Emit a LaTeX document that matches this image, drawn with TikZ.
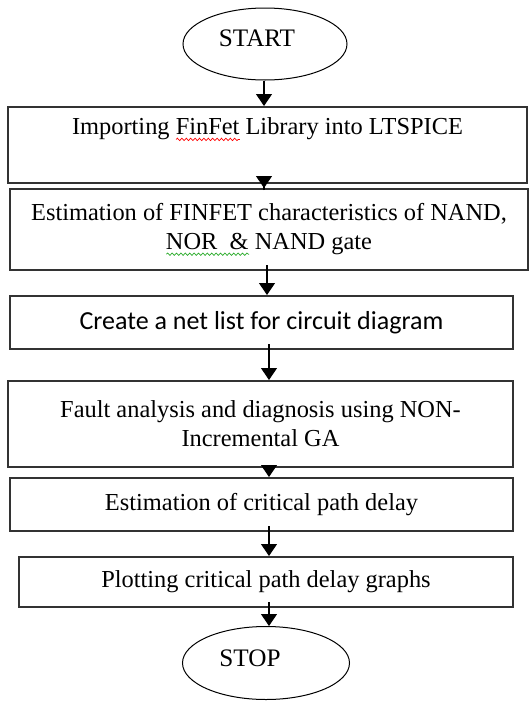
\documentclass[tikz,border=0pt]{standalone}
\usepackage{fontspec}
\setmainfont{Liberation Serif}
\newfontfamily\calibrifont{Carlito}
\usetikzlibrary{shapes.geometric,arrows.meta,decorations.pathmorphing}
\newsavebox\wavebox
\newcommand\spellwave[2]{\sbox\wavebox{#2}\rlap{\tikz[baseline=0pt]\draw[#1,line width=0.35pt,decorate,decoration={snake,amplitude=0.6pt,segment length=2.2pt}] (0pt,-2.4pt) -- (\the\wd\wavebox,-2.4pt);}\usebox\wavebox}
\definecolor{wordgreen}{RGB}{40,170,40}
\begin{document}
\begin{tikzpicture}[x=0.5pt,y=-0.5pt,
  box/.style={draw=black!80,line width=1pt,inner sep=0pt,align=center,font=\fontsize{12.2}{14.5}\selectfont},
  terminal/.style={ellipse,draw,line width=0.5pt,inner sep=0pt,font=\fontsize{12.6}{15}\selectfont},
  flow/.style={-{Triangle[width=8pt,length=6pt]},line width=0.6pt}]
\useasboundingbox (0,0) rectangle (529,702);

\node[terminal,minimum width=82pt,minimum height=36pt] (start) at (265,44)
    {\raisebox{-1.25pt}[0pt][0pt]{START}\hspace*{8pt}};

\node[box,minimum width=259.5pt,minimum height=38pt] (box1) at (267.5,145)
    {Importing \spellwave{red}{FinFet} Library into LTSPICE\\ \strut};
\node[box,minimum width=259pt,minimum height=40.5pt] (box2) at (269,229.5)
    {Estimation of FINFET characteristics of NAND,\\ \spellwave{wordgreen}{NOR\ \ \&} NAND gate};
\node[box,minimum width=251.5pt,minimum height=26.5pt,font=\calibrifont\fontsize{13}{15}\selectfont] (box3) at (261.5,322.5)
    {Create a net list for circuit diagram};
\node[box,minimum width=252.5pt,minimum height=43pt] (box4) at (260.5,424)
    {Fault analysis and diagnosis using NON-\\ Incremental GA};
\node[box,minimum width=251.5pt,minimum height=26.5pt] (box5) at (261.5,504.5)
    {Estimation of critical path delay};
\node[box,minimum width=247pt,minimum height=25pt] (box6) at (266,582)
    {Plotting critical path delay graphs};

\node[terminal,minimum width=83.5pt,minimum height=36.5pt] (stop) at (266,663)
    {\raisebox{-1.75pt}[0pt][0pt]{STOP}\hspace*{16pt}};

\coordinate (ax) at (264,0);
\draw[flow] (start.south -| ax) -- (box1.north -| ax);
\foreach \a/\b/\x in {box1/box2/264, box2/box3/267, box3/box4/269,
                      box4/box5/269, box5/box6/269, box6/stop/269}
{
    \coordinate (ax) at (\x,0);
    \draw[flow,shorten <=-3pt] (\a.south -| ax) -- (\b.north -| ax);
}

\end{tikzpicture}
\end{document}
